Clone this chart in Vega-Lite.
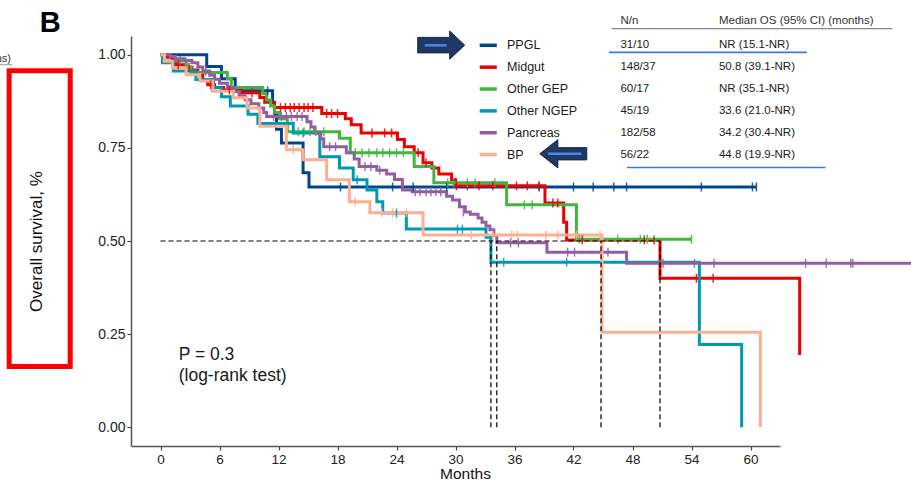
{
  "$schema": "https://vega.github.io/schema/vega-lite/v6.json",
  "width": 649,
  "height": 410,
  "autosize": {"type": "none"},
  "padding": {"left": 131, "top": 36, "right": 131, "bottom": 37},
  "background": "white",
  "config": {
    "font": "Liberation Sans",
    "view": {"stroke": null},
    "axis": {"domainColor": "#555", "domainWidth": 1.5, "tickColor": "#444", "tickSize": 4, "tickWidth": 1.2, "labelColor": "#222", "labelFontSize": 14, "titleFontSize": 17, "titleFontWeight": "normal", "titleColor": "#111", "grid": false, "labelFont": "Liberation Sans", "titleFont": "Liberation Sans"}
  },
  "datasets": {
    "km": [
      {"g": "PPGL", "t": 0, "s": 1}, {"g": "PPGL", "t": 4.7, "s": 0.968}, {"g": "PPGL", "t": 6.2, "s": 0.935}, {"g": "PPGL", "t": 7.6, "s": 0.903}, {"g": "PPGL", "t": 11.4, "s": 0.871}, {"g": "PPGL", "t": 11.6, "s": 0.839}, {"g": "PPGL", "t": 11.8, "s": 0.8}, {"g": "PPGL", "t": 12.3, "s": 0.763}, {"g": "PPGL", "t": 14.5, "s": 0.683}, {"g": "PPGL", "t": 15.1, "s": 0.645}, {"g": "PPGL", "t": 60.6, "s": 0.645},
      {"g": "Midgut", "t": 0, "s": 1}, {"g": "Midgut", "t": 0.6, "s": 0.993}, {"g": "Midgut", "t": 1.2, "s": 0.986}, {"g": "Midgut", "t": 1.6, "s": 0.973}, {"g": "Midgut", "t": 2.6, "s": 0.966}, {"g": "Midgut", "t": 3.2, "s": 0.959}, {"g": "Midgut", "t": 3.8, "s": 0.946}, {"g": "Midgut", "t": 4.3, "s": 0.932}, {"g": "Midgut", "t": 4.8, "s": 0.919}, {"g": "Midgut", "t": 5.5, "s": 0.912}, {"g": "Midgut", "t": 6.4, "s": 0.905}, {"g": "Midgut", "t": 8.2, "s": 0.898}, {"g": "Midgut", "t": 10.1, "s": 0.885}, {"g": "Midgut", "t": 10.6, "s": 0.872}, {"g": "Midgut", "t": 11.6, "s": 0.858}, {"g": "Midgut", "t": 16.4, "s": 0.842}, {"g": "Midgut", "t": 18.8, "s": 0.828}, {"g": "Midgut", "t": 19.4, "s": 0.812}, {"g": "Midgut", "t": 20.4, "s": 0.79}, {"g": "Midgut", "t": 24.1, "s": 0.772}, {"g": "Midgut", "t": 24.8, "s": 0.753}, {"g": "Midgut", "t": 25.8, "s": 0.737}, {"g": "Midgut", "t": 26.7, "s": 0.71}, {"g": "Midgut", "t": 27.6, "s": 0.696}, {"g": "Midgut", "t": 28.3, "s": 0.68}, {"g": "Midgut", "t": 29.6, "s": 0.664}, {"g": "Midgut", "t": 30.0, "s": 0.648}, {"g": "Midgut", "t": 39.1, "s": 0.602}, {"g": "Midgut", "t": 41.0, "s": 0.55}, {"g": "Midgut", "t": 41.3, "s": 0.503}, {"g": "Midgut", "t": 50.8, "s": 0.4}, {"g": "Midgut", "t": 65.0, "s": 0.194},
      {"g": "Other GEP", "t": 0, "s": 1}, {"g": "Other GEP", "t": 0.3, "s": 0.983}, {"g": "Other GEP", "t": 2.6, "s": 0.967}, {"g": "Other GEP", "t": 3.1, "s": 0.952}, {"g": "Other GEP", "t": 6.8, "s": 0.935}, {"g": "Other GEP", "t": 7.2, "s": 0.912}, {"g": "Other GEP", "t": 10.4, "s": 0.895}, {"g": "Other GEP", "t": 10.8, "s": 0.878}, {"g": "Other GEP", "t": 11.2, "s": 0.862}, {"g": "Other GEP", "t": 11.6, "s": 0.845}, {"g": "Other GEP", "t": 12.1, "s": 0.828}, {"g": "Other GEP", "t": 12.9, "s": 0.793}, {"g": "Other GEP", "t": 18.2, "s": 0.776}, {"g": "Other GEP", "t": 19.3, "s": 0.737}, {"g": "Other GEP", "t": 25.8, "s": 0.7}, {"g": "Other GEP", "t": 27.8, "s": 0.656}, {"g": "Other GEP", "t": 35.2, "s": 0.597}, {"g": "Other GEP", "t": 42.3, "s": 0.505}, {"g": "Other GEP", "t": 54.0, "s": 0.505},
      {"g": "Other NGEP", "t": 0, "s": 1}, {"g": "Other NGEP", "t": 0.2, "s": 0.978}, {"g": "Other NGEP", "t": 1.3, "s": 0.956}, {"g": "Other NGEP", "t": 3.6, "s": 0.933}, {"g": "Other NGEP", "t": 5.4, "s": 0.911}, {"g": "Other NGEP", "t": 6.2, "s": 0.887}, {"g": "Other NGEP", "t": 7.1, "s": 0.862}, {"g": "Other NGEP", "t": 8.9, "s": 0.84}, {"g": "Other NGEP", "t": 9.9, "s": 0.815}, {"g": "Other NGEP", "t": 13.5, "s": 0.79}, {"g": "Other NGEP", "t": 16.2, "s": 0.726}, {"g": "Other NGEP", "t": 18.2, "s": 0.696}, {"g": "Other NGEP", "t": 19.6, "s": 0.664}, {"g": "Other NGEP", "t": 21.0, "s": 0.637}, {"g": "Other NGEP", "t": 22.0, "s": 0.605}, {"g": "Other NGEP", "t": 22.6, "s": 0.575}, {"g": "Other NGEP", "t": 25.0, "s": 0.532}, {"g": "Other NGEP", "t": 33.1, "s": 0.51}, {"g": "Other NGEP", "t": 33.6, "s": 0.443}, {"g": "Other NGEP", "t": 54.8, "s": 0.222}, {"g": "Other NGEP", "t": 59.1, "s": 0},
      {"g": "Pancreas", "t": 0, "s": 1}, {"g": "Pancreas", "t": 1.0, "s": 0.995}, {"g": "Pancreas", "t": 1.5, "s": 0.989}, {"g": "Pancreas", "t": 2.5, "s": 0.984}, {"g": "Pancreas", "t": 3.2, "s": 0.978}, {"g": "Pancreas", "t": 3.8, "s": 0.967}, {"g": "Pancreas", "t": 4.3, "s": 0.956}, {"g": "Pancreas", "t": 5.0, "s": 0.945}, {"g": "Pancreas", "t": 5.5, "s": 0.934}, {"g": "Pancreas", "t": 6.0, "s": 0.923}, {"g": "Pancreas", "t": 6.8, "s": 0.912}, {"g": "Pancreas", "t": 7.5, "s": 0.901}, {"g": "Pancreas", "t": 8.0, "s": 0.89}, {"g": "Pancreas", "t": 8.6, "s": 0.879}, {"g": "Pancreas", "t": 9.2, "s": 0.868}, {"g": "Pancreas", "t": 10.0, "s": 0.857}, {"g": "Pancreas", "t": 10.5, "s": 0.845}, {"g": "Pancreas", "t": 10.8, "s": 0.834}, {"g": "Pancreas", "t": 14.9, "s": 0.82}, {"g": "Pancreas", "t": 15.3, "s": 0.806}, {"g": "Pancreas", "t": 15.7, "s": 0.79}, {"g": "Pancreas", "t": 16.3, "s": 0.774}, {"g": "Pancreas", "t": 16.6, "s": 0.753}, {"g": "Pancreas", "t": 18.9, "s": 0.737}, {"g": "Pancreas", "t": 19.7, "s": 0.72}, {"g": "Pancreas", "t": 20.2, "s": 0.7}, {"g": "Pancreas", "t": 22.0, "s": 0.69}, {"g": "Pancreas", "t": 23.0, "s": 0.68}, {"g": "Pancreas", "t": 23.8, "s": 0.665}, {"g": "Pancreas", "t": 24.6, "s": 0.637}, {"g": "Pancreas", "t": 25.6, "s": 0.632}, {"g": "Pancreas", "t": 29.1, "s": 0.62}, {"g": "Pancreas", "t": 29.7, "s": 0.61}, {"g": "Pancreas", "t": 30.4, "s": 0.592}, {"g": "Pancreas", "t": 31.0, "s": 0.578}, {"g": "Pancreas", "t": 31.5, "s": 0.572}, {"g": "Pancreas", "t": 32.3, "s": 0.562}, {"g": "Pancreas", "t": 32.7, "s": 0.55}, {"g": "Pancreas", "t": 33.1, "s": 0.54}, {"g": "Pancreas", "t": 33.5, "s": 0.53}, {"g": "Pancreas", "t": 33.9, "s": 0.515}, {"g": "Pancreas", "t": 34.2, "s": 0.495}, {"g": "Pancreas", "t": 39.3, "s": 0.47}, {"g": "Pancreas", "t": 47.4, "s": 0.44}, {"g": "Pancreas", "t": 77, "s": 0.44},
      {"g": "BP", "t": 0, "s": 1}, {"g": "BP", "t": 0.4, "s": 0.982}, {"g": "BP", "t": 1.2, "s": 0.964}, {"g": "BP", "t": 2.6, "s": 0.946}, {"g": "BP", "t": 4.0, "s": 0.929}, {"g": "BP", "t": 5.3, "s": 0.902}, {"g": "BP", "t": 7.4, "s": 0.884}, {"g": "BP", "t": 8.8, "s": 0.857}, {"g": "BP", "t": 10.1, "s": 0.808}, {"g": "BP", "t": 12.8, "s": 0.745}, {"g": "BP", "t": 14.5, "s": 0.718}, {"g": "BP", "t": 16.9, "s": 0.664}, {"g": "BP", "t": 19.2, "s": 0.605}, {"g": "BP", "t": 21.3, "s": 0.576}, {"g": "BP", "t": 26.7, "s": 0.516}, {"g": "BP", "t": 44.9, "s": 0.255}, {"g": "BP", "t": 61.0, "s": 0}
    ],
    "cens": [
      {"g": "PPGL", "t": 10.9, "s": 0.903}, {"g": "PPGL", "t": 18.3, "s": 0.645}, {"g": "PPGL", "t": 23.6, "s": 0.645}, {"g": "PPGL", "t": 25.7, "s": 0.645}, {"g": "PPGL", "t": 29.1, "s": 0.645}, {"g": "PPGL", "t": 38.5, "s": 0.645}, {"g": "PPGL", "t": 42.0, "s": 0.645}, {"g": "PPGL", "t": 44.0, "s": 0.645}, {"g": "PPGL", "t": 46.1, "s": 0.645}, {"g": "PPGL", "t": 47.4, "s": 0.645}, {"g": "PPGL", "t": 55.0, "s": 0.645}, {"g": "PPGL", "t": 60.2, "s": 0.645}, {"g": "PPGL", "t": 60.6, "s": 0.645},
      {"g": "Midgut", "t": 1.8, "s": 0.973}, {"g": "Midgut", "t": 2.9, "s": 0.966}, {"g": "Midgut", "t": 5.1, "s": 0.919}, {"g": "Midgut", "t": 7.0, "s": 0.905}, {"g": "Midgut", "t": 9.3, "s": 0.898}, {"g": "Midgut", "t": 12.2, "s": 0.858}, {"g": "Midgut", "t": 12.7, "s": 0.858}, {"g": "Midgut", "t": 13.2, "s": 0.858}, {"g": "Midgut", "t": 13.6, "s": 0.858}, {"g": "Midgut", "t": 14.1, "s": 0.858}, {"g": "Midgut", "t": 14.6, "s": 0.858}, {"g": "Midgut", "t": 15.0, "s": 0.858}, {"g": "Midgut", "t": 15.5, "s": 0.858}, {"g": "Midgut", "t": 16.9, "s": 0.842}, {"g": "Midgut", "t": 17.4, "s": 0.842}, {"g": "Midgut", "t": 18.0, "s": 0.842}, {"g": "Midgut", "t": 21.5, "s": 0.79}, {"g": "Midgut", "t": 22.8, "s": 0.79}, {"g": "Midgut", "t": 23.5, "s": 0.79}, {"g": "Midgut", "t": 26.2, "s": 0.737}, {"g": "Midgut", "t": 27.0, "s": 0.71}, {"g": "Midgut", "t": 30.1, "s": 0.648}, {"g": "Midgut", "t": 31.2, "s": 0.648}, {"g": "Midgut", "t": 32.4, "s": 0.648}, {"g": "Midgut", "t": 33.8, "s": 0.648}, {"g": "Midgut", "t": 36.2, "s": 0.648}, {"g": "Midgut", "t": 37.3, "s": 0.648}, {"g": "Midgut", "t": 38.5, "s": 0.648}, {"g": "Midgut", "t": 39.9, "s": 0.602}, {"g": "Midgut", "t": 40.4, "s": 0.602}, {"g": "Midgut", "t": 42.9, "s": 0.503}, {"g": "Midgut", "t": 49.2, "s": 0.503}, {"g": "Midgut", "t": 50.2, "s": 0.503}, {"g": "Midgut", "t": 54.5, "s": 0.4}, {"g": "Midgut", "t": 56.2, "s": 0.4},
      {"g": "Other GEP", "t": 14.0, "s": 0.793}, {"g": "Other GEP", "t": 14.6, "s": 0.793}, {"g": "Other GEP", "t": 15.2, "s": 0.793}, {"g": "Other GEP", "t": 15.8, "s": 0.793}, {"g": "Other GEP", "t": 16.6, "s": 0.793}, {"g": "Other GEP", "t": 19.8, "s": 0.737}, {"g": "Other GEP", "t": 20.5, "s": 0.737}, {"g": "Other GEP", "t": 21.2, "s": 0.737}, {"g": "Other GEP", "t": 22.0, "s": 0.737}, {"g": "Other GEP", "t": 22.6, "s": 0.737}, {"g": "Other GEP", "t": 23.3, "s": 0.737}, {"g": "Other GEP", "t": 24.0, "s": 0.737}, {"g": "Other GEP", "t": 24.7, "s": 0.737}, {"g": "Other GEP", "t": 29.2, "s": 0.656}, {"g": "Other GEP", "t": 29.8, "s": 0.656}, {"g": "Other GEP", "t": 31.2, "s": 0.656}, {"g": "Other GEP", "t": 32.0, "s": 0.656}, {"g": "Other GEP", "t": 34.0, "s": 0.656}, {"g": "Other GEP", "t": 37.0, "s": 0.597}, {"g": "Other GEP", "t": 37.8, "s": 0.597}, {"g": "Other GEP", "t": 42.6, "s": 0.505}, {"g": "Other GEP", "t": 46.5, "s": 0.505}, {"g": "Other GEP", "t": 48.8, "s": 0.505}, {"g": "Other GEP", "t": 49.5, "s": 0.505}, {"g": "Other GEP", "t": 54.0, "s": 0.505},
      {"g": "Other NGEP", "t": 14.5, "s": 0.79}, {"g": "Other NGEP", "t": 20.0, "s": 0.664}, {"g": "Other NGEP", "t": 24.0, "s": 0.575}, {"g": "Other NGEP", "t": 30.2, "s": 0.532}, {"g": "Other NGEP", "t": 30.7, "s": 0.532}, {"g": "Other NGEP", "t": 34.9, "s": 0.443}, {"g": "Other NGEP", "t": 41.3, "s": 0.443},
      {"g": "Pancreas", "t": 2.0, "s": 0.984}, {"g": "Pancreas", "t": 4.6, "s": 0.956}, {"g": "Pancreas", "t": 11.5, "s": 0.834}, {"g": "Pancreas", "t": 12.3, "s": 0.834}, {"g": "Pancreas", "t": 12.8, "s": 0.834}, {"g": "Pancreas", "t": 13.3, "s": 0.834}, {"g": "Pancreas", "t": 13.9, "s": 0.834}, {"g": "Pancreas", "t": 14.4, "s": 0.834}, {"g": "Pancreas", "t": 17.2, "s": 0.753}, {"g": "Pancreas", "t": 17.8, "s": 0.753}, {"g": "Pancreas", "t": 20.8, "s": 0.7}, {"g": "Pancreas", "t": 21.4, "s": 0.7}, {"g": "Pancreas", "t": 22.3, "s": 0.69}, {"g": "Pancreas", "t": 25.9, "s": 0.632}, {"g": "Pancreas", "t": 26.4, "s": 0.632}, {"g": "Pancreas", "t": 27.0, "s": 0.632}, {"g": "Pancreas", "t": 27.5, "s": 0.632}, {"g": "Pancreas", "t": 28.0, "s": 0.632}, {"g": "Pancreas", "t": 28.5, "s": 0.632}, {"g": "Pancreas", "t": 30.8, "s": 0.578}, {"g": "Pancreas", "t": 35.6, "s": 0.495}, {"g": "Pancreas", "t": 36.4, "s": 0.495}, {"g": "Pancreas", "t": 41.4, "s": 0.47}, {"g": "Pancreas", "t": 42.1, "s": 0.47}, {"g": "Pancreas", "t": 45.5, "s": 0.47}, {"g": "Pancreas", "t": 51.1, "s": 0.44}, {"g": "Pancreas", "t": 54.3, "s": 0.44}, {"g": "Pancreas", "t": 56.3, "s": 0.44}, {"g": "Pancreas", "t": 65.6, "s": 0.44}, {"g": "Pancreas", "t": 67.7, "s": 0.44}, {"g": "Pancreas", "t": 70.2, "s": 0.44}, {"g": "Pancreas", "t": 70.4, "s": 0.44},
      {"g": "BP", "t": 13.5, "s": 0.745}, {"g": "BP", "t": 19.8, "s": 0.605}, {"g": "BP", "t": 22.5, "s": 0.576}, {"g": "BP", "t": 23.6, "s": 0.576}, {"g": "BP", "t": 25.0, "s": 0.576}, {"g": "BP", "t": 31.6, "s": 0.516}, {"g": "BP", "t": 33.8, "s": 0.516}, {"g": "BP", "t": 35.7, "s": 0.516}, {"g": "BP", "t": 36.3, "s": 0.516}, {"g": "BP", "t": 39.2, "s": 0.516}, {"g": "BP", "t": 40.4, "s": 0.516}, {"g": "BP", "t": 42.3, "s": 0.516}, {"g": "BP", "t": 44.7, "s": 0.516}
    ],
    "med": [
      {"g": "Other NGEP", "m": 33.6}, {"g": "Pancreas", "m": 34.2}, {"g": "BP", "m": 44.8}, {"g": "Midgut", "m": 50.8}
    ],
    "tab": [
      {"g": "PPGL", "nn": "31/10", "os": "NR (15.1-NR)"},
      {"g": "Midgut", "nn": "148/37", "os": "50.8 (39.1-NR)"},
      {"g": "Other GEP", "nn": "60/17", "os": "NR (35.1-NR)"},
      {"g": "Other NGEP", "nn": "45/19", "os": "33.6 (21.0-NR)"},
      {"g": "Pancreas", "nn": "182/58", "os": "34.2 (30.4-NR)"},
      {"g": "BP", "nn": "56/22", "os": "44.8 (19.9-NR)"}
    ]
  },
  "layer": [
    {
      "layer": [
        {
          "data": {"name": "km"},
          "mark": {"type": "line", "interpolate": "step-after", "strokeWidth": 3, "clip": false},
          "encoding": {
            "x": {"field": "t", "type": "quantitative", "scale": {"domain": [-3, 63], "nice": false, "zero": false},
                  "axis": {"values": [0, 6, 12, 18, 24, 30, 36, 42, 48, 54, 60], "title": "Months", "labelFontSize": 13.5, "titleFontSize": 15.5, "labelPadding": 2, "titleBaseline": "alphabetic", "titleX": 334, "titleY": 32}},
            "y": {"field": "s", "type": "quantitative", "scale": {"domain": [-0.05, 1.05], "nice": false, "zero": false},
                  "axis": {"values": [0, 0.25, 0.5, 0.75, 1], "format": ".2f", "title": "Overall survival, %", "labelPadding": 2, "titleX": -86, "titleY": 205}},
            "color": {"field": "g", "type": "nominal",
                      "scale": {"domain": ["PPGL", "Midgut", "Other GEP", "Other NGEP", "Pancreas", "BP"], "range": ["#00468B", "#ED0000", "#42B540", "#0099B4", "#925E9F", "#FDAF91"]},
                      "legend": null}
          }
        },
        {
          "data": {"name": "cens"},
          "mark": {"type": "tick", "orient": "vertical", "size": 9, "thickness": 1.5, "opacity": 0.85},
          "encoding": {
            "x": {"field": "t", "type": "quantitative"},
            "y": {"field": "s", "type": "quantitative"},
            "color": {"field": "g", "type": "nominal"}
          }
        },
        {
          "data": {"name": "med"},
          "mark": {"type": "rule", "color": "black", "strokeWidth": 1.2, "strokeDash": [5, 3]},
          "encoding": {
            "x": {"field": "m", "type": "quantitative"},
            "y": {"datum": 0},
            "y2": {"datum": 0.5}
          }
        },
        {
          "data": {"values": [{}]},
          "mark": {"type": "rule", "color": "black", "strokeWidth": 1.2, "strokeDash": [5, 3]},
          "encoding": {"x": {"datum": 0}, "x2": {"datum": 50.8}, "y": {"datum": 0.5}}
        },
        {
          "data": {"values": [{}]},
          "mark": {"type": "text", "align": "left", "baseline": "alphabetic", "fontSize": 17.5, "lineHeight": 21, "color": "#1a1a1a", "text": ["P = 0.3", "(log-rank test)"]},
          "encoding": {"x": {"datum": 1.85}, "y": {"datum": 0.181}}
        },
        {
          "data": {"values": [{}]},
          "mark": {"type": "rect", "fillOpacity": 0, "stroke": "#FF0000", "strokeWidth": 5, "clip": false},
          "encoding": {"x": {"datum": -15.39}, "x2": {"datum": -9.18}, "y": {"datum": 0.957}, "y2": {"datum": 0.163}}
        },
        {
          "data": {"values": [{}]},
          "mark": {"type": "text", "align": "left", "baseline": "alphabetic", "fontSize": 29, "fontWeight": "bold", "color": "black", "text": "B"},
          "encoding": {"x": {"datum": -12.29}, "y": {"datum": 1.062}}
        },
        {
          "data": {"values": [{}]},
          "mark": {"type": "text", "align": "right", "baseline": "alphabetic", "fontSize": 11, "color": "#333", "text": "ns)"},
          "encoding": {"x": {"datum": -15.2}, "y": {"datum": 0.981}}
        },
        {
          "data": {"values": [{}]},
          "mark": {"type": "rule", "color": "#999", "strokeWidth": 1},
          "encoding": {"x": {"datum": -16.4}, "x2": {"datum": -15.1}, "y": {"datum": 0.973}}
        },
        {
          "data": {"values": [{}]},
          "mark": {"type": "text", "align": "left", "baseline": "middle", "fontSize": 11.5, "color": "#333", "text": "N/n"},
          "encoding": {"x": {"datum": 46.77}, "y": {"datum": 1.091}}
        },
        {
          "data": {"values": [{}]},
          "mark": {"type": "text", "align": "left", "baseline": "middle", "fontSize": 11.5, "color": "#333", "text": "Median OS (95% CI) (months)"},
          "encoding": {"x": {"datum": 56.79}, "y": {"datum": 1.091}}
        },
        {
          "data": {"values": [{}]},
          "mark": {"type": "rule", "color": "#888", "strokeWidth": 1.2},
          "encoding": {"x": {"datum": 45.88}, "x2": {"datum": 74.43}, "y": {"datum": 1.07}}
        },
        {
          "data": {"values": [{}]},
          "mark": {"type": "rule", "color": "#3B7BE0", "strokeWidth": 1.6},
          "encoding": {"x": {"datum": 45.6}, "x2": {"datum": 65.75}, "y": {"datum": 1.006}}
        },
        {
          "data": {"values": [{}]},
          "mark": {"type": "rule", "color": "#3B7BE0", "strokeWidth": 1.6},
          "encoding": {"x": {"datum": 47.44}, "x2": {"datum": 67.62}, "y": {"datum": 0.697}}
        },
        {
          "data": {"values": [{}]},
          "mark": {"type": "point", "filled": true, "fill": "#1F3864", "stroke": "#15284A", "strokeWidth": 1, "opacity": 1, "size": 2209,
                   "shape": "M-1,-0.33L0.36,-0.33L0.36,-0.6L1,0L0.36,0.6L0.36,0.33L-1,0.33Z"},
          "encoding": {"x": {"datum": 28.55}, "y": {"datum": 1.0255}}
        },
        {
          "data": {"values": [{}]},
          "mark": {"type": "point", "filled": true, "fill": "#1F3864", "stroke": "#15284A", "strokeWidth": 1, "opacity": 1, "size": 2209,
                   "shape": "M1,-0.26L-0.23,-0.26L-0.23,-0.6L-1,0L-0.23,0.6L-0.23,0.26L1,0.26Z"},
          "encoding": {"x": {"datum": 40.96}, "y": {"datum": 0.734}}
        },
        {
          "data": {"values": [{}]},
          "mark": {"type": "rule", "color": "#4A86E8", "strokeWidth": 2.5},
          "encoding": {"x": {"datum": 26.87}, "x2": {"datum": 29.11}, "y": {"datum": 1.025}}
        },
        {
          "data": {"values": [{}]},
          "mark": {"type": "rule", "color": "#4A86E8", "strokeWidth": 2.5},
          "encoding": {"x": {"datum": 39.41}, "x2": {"datum": 42.81}, "y": {"datum": 0.734}}
        }
      ]
    },
    {
      "data": {"name": "tab"},
      "encoding": {
        "y": {"field": "g", "type": "nominal", "scale": {"type": "point", "domain": ["PPGL", "Midgut", "Other GEP", "Other NGEP", "Pancreas", "BP"], "range": [9.3, 118.6], "padding": 0}, "axis": null}
      },
      "layer": [
        {
          "mark": {"type": "rule", "strokeWidth": 3.5},
          "encoding": {"x": {"datum": 32.46}, "x2": {"datum": 34.2}, "color": {"field": "g", "type": "nominal"}}
        },
        {
          "mark": {"type": "text", "align": "left", "baseline": "middle", "fontSize": 12.5, "color": "#1a1a1a"},
          "encoding": {"x": {"datum": 35.24}, "text": {"field": "g"}}
        },
        {
          "mark": {"type": "text", "align": "left", "baseline": "middle", "fontSize": 11.5, "color": "#1a1a1a"},
          "encoding": {"x": {"datum": 46.77}, "text": {"field": "nn"}}
        },
        {
          "mark": {"type": "text", "align": "left", "baseline": "middle", "fontSize": 11.5, "color": "#1a1a1a"},
          "encoding": {"x": {"datum": 56.79}, "text": {"field": "os"}}
        }
      ]
    }
  ],
  "resolve": {"scale": {"y": "independent"}}
}
